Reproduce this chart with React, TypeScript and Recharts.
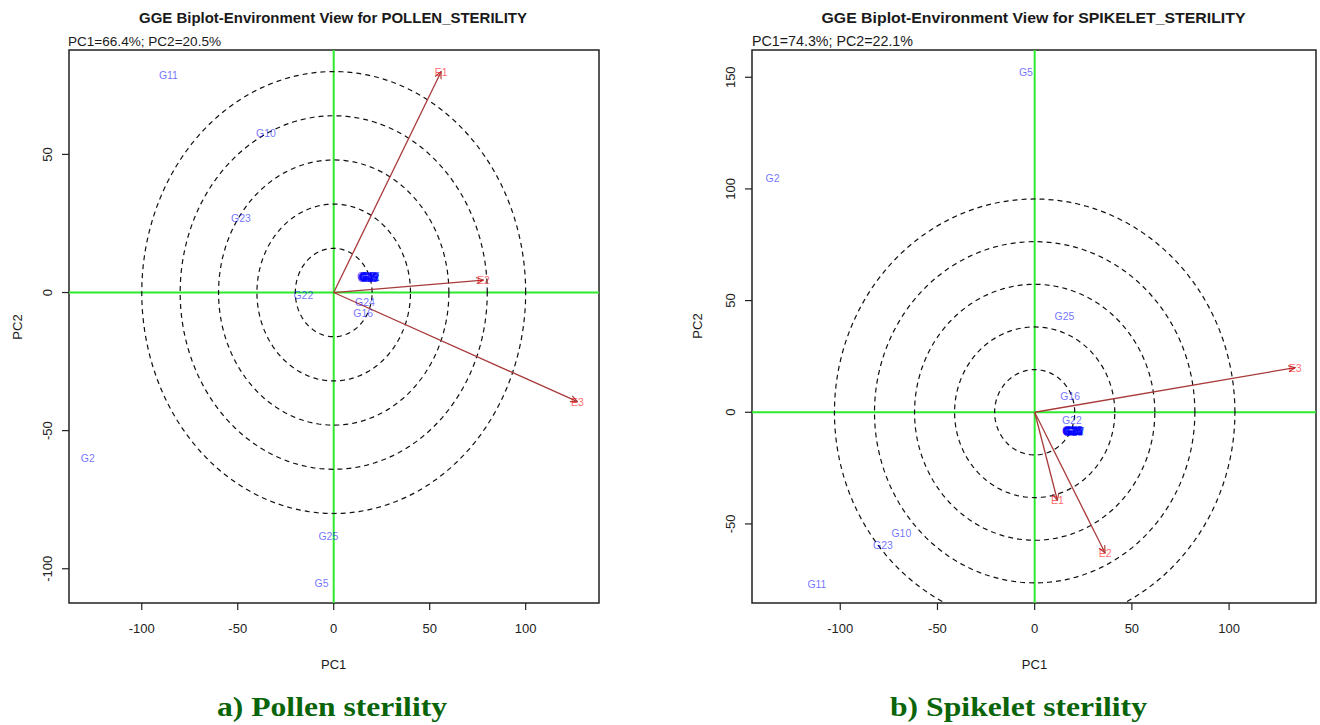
import React from 'react';
import { ScatterChart, Scatter, XAxis, YAxis, ReferenceLine, ReferenceArea } from 'recharts';

// genotype / environment scores on PC1 and PC2
const genotypes = [
  'G1', 'G2', 'G3', 'G4', 'G5', 'G6', 'G7', 'G8', 'G9', 'G10', 'G11', 'G12', 'G13',
  'G14', 'G15', 'G16', 'G17', 'G18', 'G19', 'G20', 'G21', 'G22', 'G23', 'G24', 'G25',
];
const environments = ['E1', 'E2', 'E3'];

const pollenGenoPC1 = [
  17.4, -128.1, 18.4, 17.0, -6.3, 18.9, 17.8, 18.2, 17.6, -35.3, -86.1, 18.8, 18.5,
  17.3, 18.0, 15.4, 18.7, 17.5, 18.3, 17.9, 18.6, -15.8, -48.3, 16.3, -2.8,
];
const pollenGenoPC2 = [
  5.4, -59.8, 5.9, 5.6, -105.2, 5.3, 6.1, 5.5, 5.9, 57.8, 78.7, 5.8, 5.3,
  6.0, 5.7, -7.3, 6.1, 5.3, 5.9, 5.6, 5.5, -0.9, 26.9, -3.3, -88.1,
];
const pollenEnvPC1 = [56, 78, 127];
const pollenEnvPC2 = [80, 4.5, -39.5];

const spikeGenoPC1 = [
  19.2, -134.8, 20.1, 18.9, -4.5, 20.4, 19.5, 19.8, 19.0, -68.6, -112.0, 20.2, 19.3,
  19.9, 19.6, 18.3, 20.5, 19.1, 19.5, 20.0, 19.4, 19.1, -78.0, 19.7, 15.3,
];
const spikeGenoPC2 = [
  -8.1, 104.8, -8.5, -8.3, 152.2, -8.0, -8.7, -8.2, -8.6, -54.0, -76.7, -8.4, -7.9,
  -8.8, -8.2, 7.4, -8.5, -8.3, -8.7, -8.1, -8.4, -3.4, -59.6, -8.3, 43.3,
];
const spikeEnvPC1 = [11.7, 36.2, 134];
const spikeEnvPC2 = [-39.5, -63, 20];

// concentric rings (horizontal / vertical radius)
const pollenRingRx = [20, 40, 60, 80, 100];
const pollenRingRy = [16, 32, 48, 64, 80];
const spikeRingRx = [20.6, 41.2, 61.8, 82.4, 103];
const spikeRingRy = [19.1, 38.2, 57.3, 76.4, 95.5];

const axisTicks = [-100, -50, 0, 50, 100];
const pollenYTicks = [-100, -50, 0, 50];
const spikeYTicks = [-50, 0, 50, 100, 150];

const SANS = '"Liberation Sans", Arial, sans-serif';
const SERIF = '"Liberation Serif", "Times New Roman", serif';
const ENV_COLOR = '#a83a3a';

type Pt = { pc1: number; pc2: number; name?: string };

const ringPoints = (rx: number, ry: number): Pt[] => {
  const pts: Pt[] = [];
  for (let i = 0; i <= 144; i++) {
    const t = (i / 144) * Math.PI * 2;
    pts.push({ pc1: rx * Math.cos(t), pc2: ry * Math.sin(t) });
  }
  return pts;
};

const XTick = (props: any) => (
  <text x={props.x} y={props.y + 21} textAnchor="middle" fontSize={13} fontFamily={SANS} fill="#222">
    {props.payload.value}
  </text>
);

const YTick = (props: any) => (
  <text
    transform={`translate(${props.x - 8.5},${props.y}) rotate(-90)`}
    textAnchor="middle"
    fontSize={13}
    fontFamily={SANS}
    fill="#222"
  >
    {props.payload.value}
  </text>
);

const GenoLabel = (props: any) => (
  <text
    x={props.cx}
    y={props.cy}
    textAnchor="middle"
    dominantBaseline="central"
    fontSize={10.5}
    fontFamily={SANS}
    fill="#0000ff"
    fillOpacity={0.58}
  >
    {props.payload.name}
  </text>
);

const EnvLabel = (props: any) =>
  props.payload.name ? (
    <text
      x={props.cx}
      y={props.cy}
      textAnchor="middle"
      dominantBaseline="central"
      fontSize={10.5}
      fontFamily={SANS}
      fill="#ff0000"
      fillOpacity={0.62}
    >
      {props.payload.name}
    </text>
  ) : (
    <g />
  );

const envLine = (p: any) => {
  const a = p.points[0];
  const b = p.points[p.points.length - 1];
  return (
    <path
      d={`M${a.x},${a.y}L${b.x},${b.y}`}
      stroke={ENV_COLOR}
      strokeWidth={1.3}
      fill="none"
      markerEnd="url(#envArrow)"
    />
  );
};

interface BiplotProps {
  left: number;
  margin: { top: number; right: number; bottom: number; left: number };
  xDomain: [number, number];
  yDomain: [number, number];
  yTicks: number[];
  genoPC1: number[];
  genoPC2: number[];
  envPC1: number[];
  envPC2: number[];
  ringRx: number[];
  ringRy: number[];
}

function Biplot({ left, margin, xDomain, yDomain, yTicks, genoPC1, genoPC2, envPC1, envPC2, ringRx, ringRy }: BiplotProps) {
  const genoData = genotypes.map((name, i) => ({ name, pc1: genoPC1[i], pc2: genoPC2[i] }));
  const envData = environments.map((name, i) => [
    { pc1: 0, pc2: 0 },
    { name, pc1: envPC1[i], pc2: envPC2[i] },
  ]);

  return (
    <div style={{ position: 'absolute', left, top: 0 }}>
      <ScatterChart width={660} height={690} margin={margin}>
        <XAxis
          type="number"
          dataKey="pc1"
          domain={xDomain}
          allowDataOverflow
          ticks={axisTicks}
          interval={0}
          height={40}
          axisLine={false}
          tickSize={7}
          tickLine={{ stroke: '#222', strokeWidth: 1.2 }}
          tick={<XTick />}
        />
        <YAxis
          type="number"
          dataKey="pc2"
          domain={yDomain}
          allowDataOverflow
          ticks={yTicks}
          interval={0}
          width={40}
          axisLine={false}
          tickSize={7}
          tickLine={{ stroke: '#222', strokeWidth: 1.2 }}
          tick={<YTick />}
        />
        <ReferenceLine x={0} stroke="#2eea2e" strokeWidth={2} />
        <ReferenceLine y={0} stroke="#2eea2e" strokeWidth={2} />
        {ringRx.map((rx, i) => (
          <Scatter
            key={`ring-${i}`}
            data={ringPoints(rx, ringRy[i])}
            line={{ stroke: '#111', strokeWidth: 1.2, strokeDasharray: '5 4' }}
            shape={() => <g />}
            isAnimationActive={false}
          />
        ))}
        {envData.map((d, i) => (
          <Scatter key={`env-${i}`} data={d} line={envLine} shape={EnvLabel} isAnimationActive={false} />
        ))}
        <Scatter data={genoData} shape={GenoLabel} isAnimationActive={false} />
        <ReferenceArea
          x1={xDomain[0]}
          x2={xDomain[1]}
          y1={yDomain[0]}
          y2={yDomain[1]}
          fill="none"
          stroke="#222"
          strokeWidth={1.5}
          ifOverflow="visible"
        />
      </ScatterChart>
    </div>
  );
}

export default function App() {
  return (
    <div style={{ position: 'absolute', left: 0, top: 0, width: 1320, height: 725, background: '#fff' }}>
      <svg width={0} height={0} style={{ position: 'absolute' }}>
        <defs>
          <marker
            id="envArrow"
            viewBox="0 0 10 10"
            refX={9}
            refY={5}
            markerWidth={8}
            markerHeight={8}
            markerUnits="userSpaceOnUse"
            orient="auto"
          >
            <path d="M0,1 L9,5 L0,9" fill="none" stroke={ENV_COLOR} strokeWidth={1.4} />
          </marker>
        </defs>
      </svg>

      <Biplot
        left={0}
        margin={{ top: 50, right: 61, bottom: 47, left: 29 }}
        xDomain={[-137.9, 138.2]}
        yDomain={[-112.4, 87.8]}
        yTicks={pollenYTicks}
        genoPC1={pollenGenoPC1}
        genoPC2={pollenGenoPC2}
        envPC1={pollenEnvPC1}
        envPC2={pollenEnvPC2}
        ringRx={pollenRingRx}
        ringRy={pollenRingRy}
      />
      <Biplot
        left={660}
        margin={{ top: 50, right: 4, bottom: 47, left: 52 }}
        xDomain={[-145.4, 144.7]}
        yDomain={[-85.4, 162.2]}
        yTicks={spikeYTicks}
        genoPC1={spikeGenoPC1}
        genoPC2={spikeGenoPC2}
        envPC1={spikeEnvPC1}
        envPC2={spikeEnvPC2}
        ringRx={spikeRingRx}
        ringRy={spikeRingRy}
      />

      <svg width={1320} height={725} style={{ position: 'absolute', left: 0, top: 0, pointerEvents: 'none' }}>
        <g fontFamily={SANS} fill="#1a1a1a">
          <text x={333} y={22.5} textAnchor="middle" fontSize={15} fontWeight="bold" textLength={388} lengthAdjust="spacingAndGlyphs">
            GGE Biplot-Environment View for POLLEN_STERILITY
          </text>
          <text x={1033.5} y={22.5} textAnchor="middle" fontSize={15} fontWeight="bold" textLength={424} lengthAdjust="spacingAndGlyphs">
            GGE Biplot-Environment View for SPIKELET_STERILITY
          </text>
          <text x={68} y={46} fontSize={13.5} textLength={153} lengthAdjust="spacingAndGlyphs">
            PC1=66.4%; PC2=20.5%
          </text>
          <text x={752} y={46} fontSize={14} textLength={161} lengthAdjust="spacingAndGlyphs">
            PC1=74.3%; PC2=22.1%
          </text>
          <text x={333.7} y={668.5} textAnchor="middle" fontSize={13}>PC1</text>
          <text x={1034.5} y={668.5} textAnchor="middle" fontSize={13}>PC1</text>
          <text transform="translate(21.7,327) rotate(-90)" textAnchor="middle" fontSize={13}>PC2</text>
          <text transform="translate(701.7,326) rotate(-90)" textAnchor="middle" fontSize={13}>PC2</text>
        </g>
        <g fontFamily={SERIF} fontWeight="bold" fill="#0a640a" fontSize={28}>
          <text x={332} y={716} textAnchor="middle" textLength={230} lengthAdjust="spacingAndGlyphs">
            a) Pollen sterility
          </text>
          <text x={1018.5} y={716} textAnchor="middle" textLength={257} lengthAdjust="spacingAndGlyphs">
            b) Spikelet sterility
          </text>
        </g>
      </svg>
    </div>
  );
}
